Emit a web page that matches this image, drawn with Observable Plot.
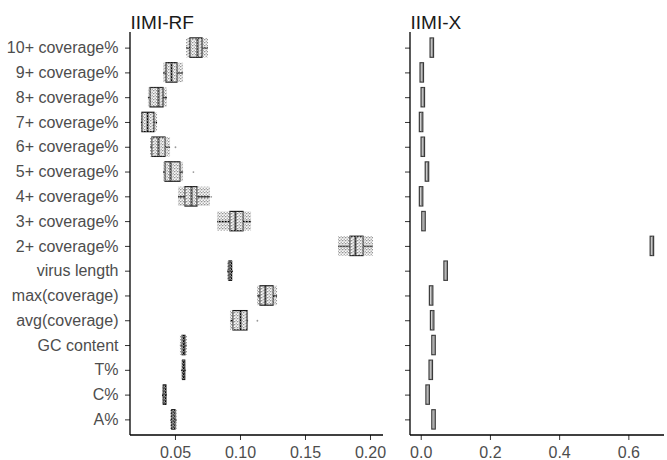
<!DOCTYPE html>
<html>
<head>
<meta charset="utf-8">
<script src="https://cdn.jsdelivr.net/npm/d3@7"></script>
<script src="https://cdn.jsdelivr.net/npm/@observablehq/plot@0.6"></script>
<style>
  html, body { margin: 0; padding: 0; background: #fff; }
  #wrap { display: flex; flex-direction: row; width: 667px; height: 460px; font-family: "Liberation Sans", Arial, sans-serif; }
  #wrap svg { display: block; }
</style>
</head>
<body>
<svg width="0" height="0" style="position:absolute">
  <defs>
    <pattern id="jit" width="3" height="3" patternUnits="userSpaceOnUse">
      <circle cx="0.75" cy="0.75" r="0.8" fill="#8c8c8c"/>
      <circle cx="2.25" cy="2.25" r="0.8" fill="#a8a8a8"/>
      <circle cx="2.25" cy="0.75" r="0.5" fill="#bdbdbd"/>
    </pattern>
  </defs>
</svg>
<div id="wrap"></div>
<script>
const categories = ["10+ coverage%", "9+ coverage%", "8+ coverage%", "7+ coverage%", "6+ coverage%",
  "5+ coverage%", "4+ coverage%", "3+ coverage%", "2+ coverage%", "virus length",
  "max(coverage)", "avg(coverage)", "GC content", "T%", "C%", "A%"];

// IIMI-RF: box summary per feature
const rfMin = [0.0585, 0.0408, 0.0292, 0.0238, 0.0308, 0.0408, 0.0523, 0.0823, 0.1754, 0.0900, 0.1131, 0.0923, 0.0538, 0.0546, 0.0400, 0.0462];
const rfQ1  = [0.0615, 0.0431, 0.0308, 0.0246, 0.0323, 0.0423, 0.0577, 0.0923, 0.1846, 0.0915, 0.1154, 0.0946, 0.0555, 0.0558, 0.0410, 0.0475];
const rfMed = [0.0669, 0.0469, 0.0369, 0.0285, 0.0369, 0.0462, 0.0623, 0.0962, 0.1885, 0.0923, 0.1192, 0.1000, 0.0565, 0.0565, 0.0420, 0.0485];
const rfQ3  = [0.0708, 0.0515, 0.0408, 0.0338, 0.0423, 0.0538, 0.0669, 0.1023, 0.1946, 0.0935, 0.1254, 0.1054, 0.0577, 0.0575, 0.0430, 0.0500];
const rfMax = [0.0754, 0.0562, 0.0438, 0.0362, 0.0462, 0.0562, 0.0769, 0.1085, 0.2023, 0.0946, 0.1285, 0.1062, 0.0592, 0.0585, 0.0438, 0.0515];
const rfOutlierCat = ["5+ coverage%", "avg(coverage)", "6+ coverage%", "4+ coverage%"];
const rfOutlierVal = [0.0638, 0.1130, 0.0500, 0.0775];

// IIMI-X: box summary per feature
const xMin = [0.027, -0.002, 0.001, -0.004, 0.001, 0.013, -0.004, 0.003, 0.663, 0.067, 0.025, 0.028, 0.032, 0.024, 0.015, 0.032];
const xMed = [0.032, 0.003, 0.006, 0.001, 0.006, 0.018, 0.001, 0.008, 0.668, 0.072, 0.030, 0.033, 0.037, 0.029, 0.020, 0.037];
const xMax = [0.037, 0.008, 0.011, 0.006, 0.011, 0.023, 0.006, 0.013, 0.673, 0.077, 0.035, 0.038, 0.042, 0.034, 0.025, 0.042];

const rfTicks = [0.05, 0.10, 0.15, 0.20];
const xTicks = [0, 0.2, 0.4, 0.6];

const rf = categories.map((c, i) => ({cat: c, lo: rfMin[i], q1: rfQ1[i], med: rfMed[i], q3: rfQ3[i], hi: rfMax[i]}));
const rfOut = rfOutlierCat.map((c, i) => ({cat: c, v: rfOutlierVal[i]}));
const xx = categories.map((c, i) => ({cat: c, lo: xMin[i], med: xMed[i], hi: xMax[i]}));

const H = 460, MT = 32, MB = 25;
const font = "Liberation Sans, Arial, sans-serif";
const yOpts = {type: "band", domain: categories, paddingInner: 0.22, paddingOuter: 0.24, round: false};

function addAxisLines(svg, W, ML, MR) {
  const s = d3.select(svg);
  s.append("line").attr("x1", ML).attr("x2", ML).attr("y1", MT).attr("y2", H - MB)
    .attr("stroke", "black").attr("stroke-width", 1.3);
  s.append("line").attr("x1", ML).attr("x2", W - MR).attr("y1", H - MB).attr("y2", H - MB)
    .attr("stroke", "black").attr("stroke-width", 1.3);
}

const left = Plot.plot({
  width: 390, height: H, marginLeft: 130, marginRight: 7, marginTop: MT, marginBottom: MB,
  style: {fontFamily: font, background: "white"},
  x: {domain: [0.0154, 0.21]},
  y: yOpts,
  marks: [
    Plot.axisY({fontSize: 16, tickSize: 5, tickPadding: 7, label: null, color: "#4d4d4d", stroke: "#333"}),
    Plot.axisX({ticks: rfTicks, tickFormat: ".2f", fontSize: 16, tickSize: 5, tickPadding: 6, label: null, color: "#4d4d4d", stroke: "#333"}),
    Plot.ruleY(rf, {x1: "lo", x2: "q1", y: "cat", stroke: "black", strokeWidth: 1.5}),
    Plot.ruleY(rf, {x1: "q3", x2: "hi", y: "cat", stroke: "black", strokeWidth: 1.5}),
    Plot.barX(rf, {x1: "q1", x2: "q3", y: "cat", fill: "white", stroke: "#000", strokeWidth: 1.2}),
    Plot.tickX(rf, {x: "med", y: "cat", stroke: "black", strokeWidth: 2}),
    Plot.barX(rf, {x1: "lo", x2: "hi", y: "cat", fill: "url(#jit)"}),
    Plot.dot(rfOut, {x: "v", y: "cat", r: 0.9, fill: "#999"}),
    Plot.text(["IIMI-RF"], {frameAnchor: "top-left", dy: -17, text: d => d, fontSize: 19, fill: "#1a1a1a", textAnchor: "start"})
  ]
});
addAxisLines(left, 390, 130, 7);

const right = Plot.plot({
  width: 277, height: H, marginLeft: 20, marginRight: 3, marginTop: MT, marginBottom: MB,
  style: {fontFamily: font, background: "white"},
  x: {domain: [-0.031, 0.703]},
  y: yOpts,
  marks: [
    Plot.axisY({tickSize: 5, tickFormat: () => "", label: null, stroke: "#333"}),
    Plot.axisX({ticks: xTicks, tickFormat: ".1f", fontSize: 16, tickSize: 5, tickPadding: 6, label: null, color: "#4d4d4d", stroke: "#333"}),
    Plot.barX(xx, {x1: "lo", x2: "hi", y: "cat", fill: "#d0d0d0", stroke: "#3a3a3a", strokeWidth: 1.2}),
    Plot.tickX(xx, {x: "med", y: "cat", stroke: "#777", strokeWidth: 0.8}),
    Plot.text(["IIMI-X"], {frameAnchor: "top-left", dy: -17, text: d => d, fontSize: 19, fill: "#1a1a1a", textAnchor: "start"})
  ]
});
addAxisLines(right, 277, 20, 3);

document.getElementById("wrap").append(left, right);
</script>
</body>
</html>
